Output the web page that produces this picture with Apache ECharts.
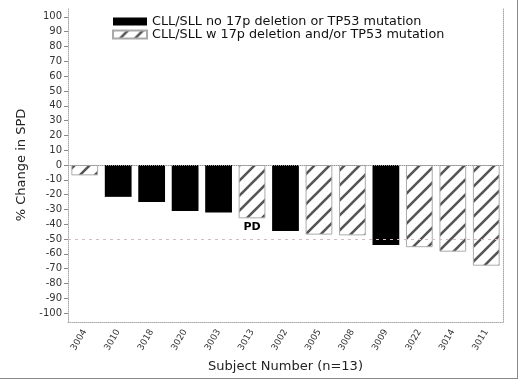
<!DOCTYPE html>
<html>
<head>
<meta charset="utf-8">
<script src="https://cdn.jsdelivr.net/npm/echarts@6/dist/echarts.min.js"></script>
<style>
  html, body { margin: 0; padding: 0; background: #fff; }
  #main { width: 517px; height: 378px; border-right: 1px solid #888; border-bottom: 1px solid #888; }
</style>
</head>
<body>
<div id="main"></div>
<script>
  // subjects, in plotted order
  var subjects = ['3004', '3010', '3018', '3020', '3003', '3013', '3002', '3005', '3008', '3009', '3022', '3014', '3011']
  // '-' where the subject belongs to the other group
  var noDeletion = ['-', -21.5, -25, -31, -32, '-', -44.5, '-', '-', -54, '-', '-', '-']
  var withDeletion = [-7, '-', '-', '-', '-', -36, '-', -47, -47.5, '-', -55.5, -58.5, -68]
  var pdSubject = '3013'
  var yTicks = [-100, -90, -80, -70, -60, -50, -40, -30, -20, -10, 0, 10, 20, 30, 40, 50, 60, 70, 80, 90, 100]
  var refLines = [0, -50]

  function hatch() {
    var c = document.createElement('canvas')
    c.width = 15
    c.height = 15
    var g = c.getContext('2d')
    g.fillStyle = '#fff'
    g.fillRect(0, 0, 15, 15)
    g.strokeStyle = '#555'
    g.lineWidth = 2.6
    g.beginPath()
    g.moveTo(-2, 17); g.lineTo(17, -2)
    g.moveTo(-9, 9); g.lineTo(9, -9)
    g.moveTo(6, 24); g.lineTo(24, 6)
    g.stroke()
    return {image: c, repeat: 'repeat'}
  }

  var font = 'DejaVu Sans'
  var frameLine = {show: true, lineStyle: {color: '#aaa', type: 'dotted', width: 1}}

  var chart = echarts.init(document.getElementById('main'))
  chart.setOption({
    animation: false,
    textStyle: {fontFamily: font, color: '#222'},
    grid: {left: 68, right: 14, top: 8, bottom: 56, outerBoundsMode: 'none'},
    legend: {
      orient: 'vertical',
      left: 107,
      top: 10,
      icon: 'rect',
      itemWidth: 34,
      itemHeight: 8,
      itemGap: 0,
      textStyle: {fontFamily: font, fontSize: 12.8, lineHeight: 12, color: '#111'},
      data: ['CLL/SLL no 17p deletion or TP53 mutation', 'CLL/SLL w 17p deletion and/or TP53 mutation']
    },
    xAxis: [{
      type: 'category',
      data: subjects,
      axisLine: {show: true, onZero: false, lineStyle: {color: '#aaa', type: 'dotted'}},
      axisTick: {show: false},
      axisLabel: {rotate: 60, fontSize: 9, color: '#333', margin: 8},
      name: 'Subject Number (n=13)',
      nameLocation: 'middle',
      nameGap: 38,
      nameTextStyle: {fontSize: 13, color: '#222'}
    }, {
      type: 'category',
      data: subjects,
      position: 'top',
      axisLine: frameLine,
      axisTick: {show: false},
      axisLabel: {show: false}
    }],
    yAxis: [{
      type: 'value',
      min: -106,
      max: 106,
      splitLine: {show: false},
      axisLine: frameLine,
      axisTick: {show: true, length: 4, lineStyle: {color: '#888'}, customValues: yTicks},
      axisLabel: {fontSize: 10, color: '#333', margin: 6, customValues: yTicks},
      name: '% Change in SPD',
      nameLocation: 'middle',
      nameGap: 38,
      nameTextStyle: {fontSize: 13, color: '#222'}
    }, {
      type: 'value',
      min: -106,
      max: 106,
      position: 'right',
      splitLine: {show: false},
      axisLine: frameLine,
      axisTick: {show: false},
      axisLabel: {show: false}
    }],
    series: [{
      name: 'CLL/SLL no 17p deletion or TP53 mutation',
      type: 'bar',
      data: noDeletion,
      barWidth: '80%',
      barGap: '-100%',
      itemStyle: {color: '#000'},
      markLine: {
        silent: true,
        symbol: 'none',
        label: {show: false},
        data: refLines.map(function (v) {
          return {
            yAxis: v,
            lineStyle: v === 0
              ? {color: '#999', type: 'dotted', width: 1}
              : {color: '#d7b8c6', type: [3, 4], width: 1}
          }
        })
      }
    }, {
      name: 'CLL/SLL w 17p deletion and/or TP53 mutation',
      type: 'bar',
      barWidth: '80%',
      barGap: '-100%',
      itemStyle: {color: hatch(), borderColor: '#aaa', borderWidth: 1},
      label: {
        show: true,
        position: 'bottom',
        distance: 3,
        fontSize: 11,
        fontWeight: 'bold',
        color: '#000',
        formatter: function (p) { return p.name === pdSubject ? 'PD' : '' }
      },
      data: withDeletion
    }]
  })
</script>
</body>
</html>
